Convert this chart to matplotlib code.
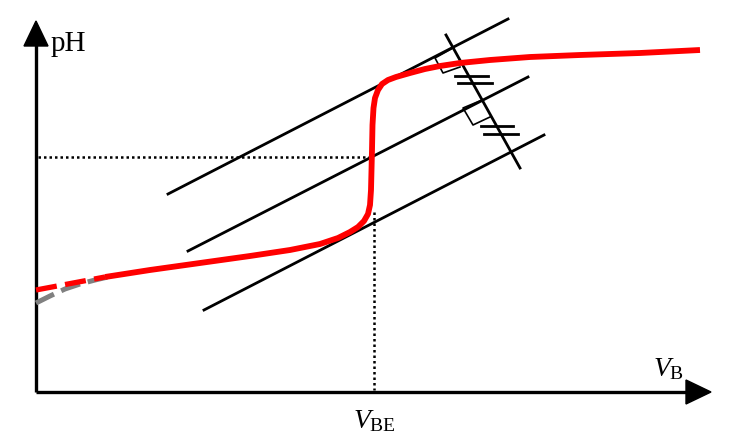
import matplotlib
matplotlib.use("Agg")
import matplotlib.pyplot as plt
from matplotlib.patches import Polygon

plt.rcParams['mathtext.fontset'] = 'custom'
plt.rcParams['mathtext.rm'] = 'Liberation Serif'
plt.rcParams['mathtext.it'] = 'Liberation Serif:italic'

# Diagram coordinates (pixel-like units, y downward)
curve_x = [105, 150, 200, 250, 290, 320, 338, 350, 358, 364, 368, 370, 371, 371.5, 372, 372.5,
           373.5, 375, 378, 382, 388, 396, 410, 425, 440, 460, 490, 530, 580, 640, 700]
curve_y = [277, 270, 263, 256, 250, 244, 238, 232, 227, 221, 214, 205, 190, 170, 150, 125,
           108, 98, 90, 84, 80, 77, 73, 69, 66, 63, 60, 57, 55, 53, 50]
red_dash_x = [36, 105]
red_dash_y = [290, 277]
gray_dash_x = [36, 50, 65, 80, 95, 108]
gray_dash_y = [303, 296, 289, 284, 280, 277]

tangent_x0 = [168, 188, 204]
tangent_y0 = [194, 251, 310]
tangent_x1 = [508, 528, 544]
tangent_y1 = [19, 77, 135]

perp_x = [446, 520]
perp_y = [35, 168]

sq1_x = [453, 435, 443, 460]
sq1_y = [48, 58, 73, 67]
sq2_x = [482, 463, 473, 490]
sq2_y = [100, 108, 125, 117]

ticks_x0 = [455, 458, 481, 484]
ticks_x1 = [488, 492, 513, 518]
ticks_y = [76, 83, 126, 134]

ph_level = 157
v_be = 374
axis_x = 36
axis_y = 392

fig = plt.figure(figsize=(7.39, 4.46), dpi=100)
ax = fig.add_axes([0, 0, 1, 1])
ax.set_xlim(0, 739)
ax.set_ylim(446, 0)
ax.axis('off')

# axes
ax.plot([axis_x, axis_x], [axis_y, 40], color='black', lw=2.4, solid_capstyle='butt')
ax.plot([axis_x, 690], [axis_y, axis_y], color='black', lw=2.4, solid_capstyle='butt')
ax.add_patch(Polygon([[24, 46], [48, 46], [36, 21]], closed=True, color='black'))
ax.add_patch(Polygon([[686, 380], [686, 404], [711, 392]], closed=True, color='black'))

# dotted guides
ax.plot([axis_x + 2, 372], [ph_level, ph_level], color='black', lw=1.8, ls=(0, (1, 1.2)))
ax.plot([v_be, v_be], [212, axis_y - 2], color='black', lw=1.8, ls=(0, (1, 1.2)))

# tangents
for x0, y0, x1, y1 in zip(tangent_x0, tangent_y0, tangent_x1, tangent_y1):
    ax.plot([x0, x1], [y0, y1], color='black', lw=2.0)
ax.plot(perp_x, perp_y, color='black', lw=2.0)
ax.plot(sq1_x, sq1_y, color='black', lw=1.2)
ax.plot(sq2_x, sq2_y, color='black', lw=1.2)
for x0, x1, y in zip(ticks_x0, ticks_x1, ticks_y):
    ax.plot([x0, x1], [y, y], color='black', lw=2.0)

# curves
ax.plot(gray_dash_x, gray_dash_y, color='#808080', lw=3.6, ls=(0, (4, 1.6)))
ax.plot(red_dash_x, red_dash_y, color='red', lw=3.8, ls=(0, (4, 1.6)))
ax.plot(curve_x, curve_y, color='red', lw=4.2, solid_capstyle='butt', solid_joinstyle='round')

# labels
ax.text(51, 44, 'pH', fontsize=21, family='Liberation Serif', va='center', ha='left')
ax.text(653, 368, r'$V_{\mathrm{B}}$', fontsize=20, va='center', ha='left')
ax.text(374, 420, r'$V_{\mathrm{BE}}$', fontsize=20, va='center', ha='center')

fig.savefig('out.png', dpi=100)
